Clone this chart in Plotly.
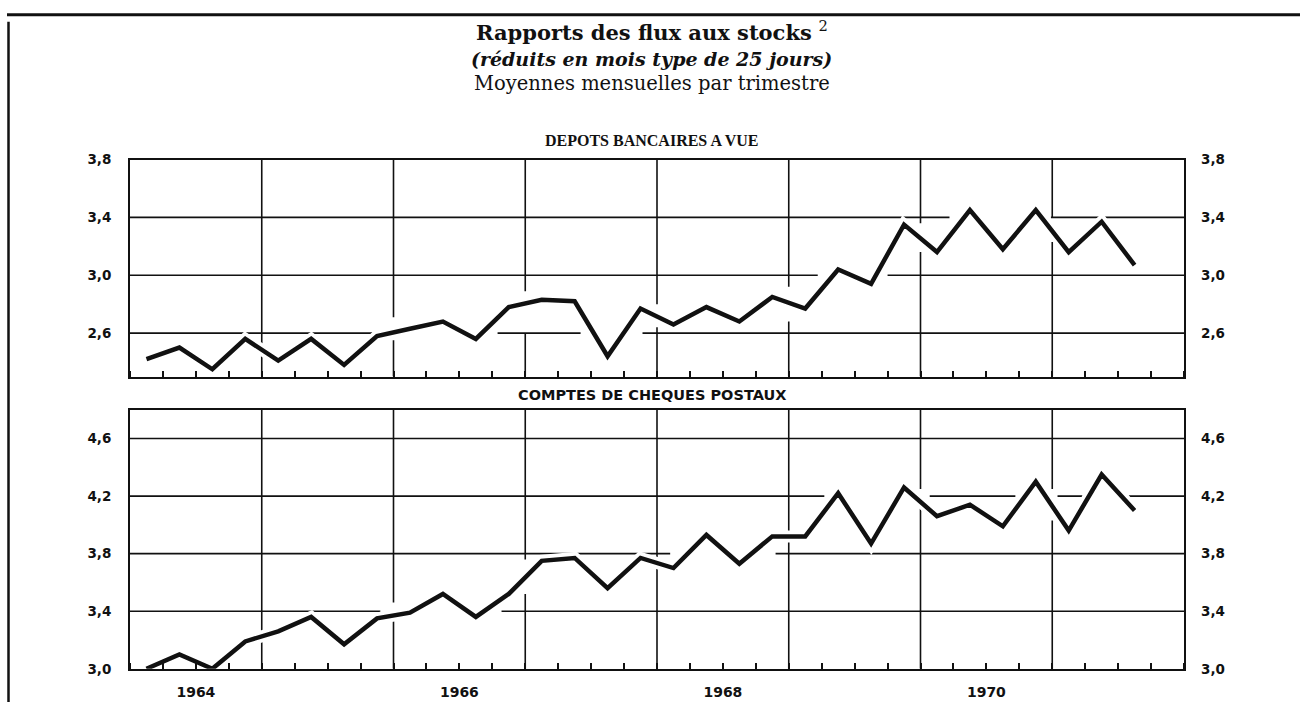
import plotly.graph_objects as go

# Trimestres couverts : 1964 T1 -> 1971 T3
annees = [1964, 1965, 1966, 1967, 1968, 1969, 1970, 1971]
trimestres = [(a, t) for a in annees for t in (1, 2, 3, 4)][:31]

# Rapports des flux aux stocks (mois type de 25 jours), moyennes mensuelles par trimestre
depots_vue = [2.42, 2.50, 2.35, 2.56, 2.41, 2.56, 2.38, 2.58,
              2.63, 2.68, 2.56, 2.78, 2.83, 2.82, 2.44, 2.77,
              2.66, 2.78, 2.68, 2.85, 2.77, 3.04, 2.94, 3.35,
              3.16, 3.45, 3.18, 3.45, 3.16, 3.37, 3.07]
cheques_postaux = [3.00, 3.10, 3.00, 3.19, 3.26, 3.36, 3.17, 3.35,
                   3.39, 3.52, 3.36, 3.52, 3.75, 3.77, 3.56, 3.77,
                   3.70, 3.93, 3.73, 3.92, 3.92, 4.22, 3.87, 4.26,
                   4.06, 4.14, 3.99, 4.30, 3.96, 4.35, 4.10]

graduations_haut = [2.6, 3.0, 3.4, 3.8]
graduations_bas = [3.0, 3.4, 3.8, 4.2, 4.6]
annees_etiquetees = ["1964", "1966", "1968", "1970"]

# position au milieu de chaque trimestre
x = [a + (t - 0.5) / 4 for a, t in trimestres]


def virgule(v):
    return f"{v:.1f}".replace(".", ",")


X_RANGE = [1964, 1972]
Y_HAUT = [2.3, 3.8]
Y_BAS = [3.0, 4.8]

W, H = 1300, 710
XD = [130 / W, 1184 / W]
YD_HAUT = [1 - 377 / H, 1 - 155 / H]
YD_BAS = [1 - 676 / H, 1 - 411 / H]

NOIR = "#111111"
police_grad = dict(family="DejaVu Sans", size=13.5, color=NOIR, weight="bold")

fig = go.Figure()

for serie, xa, ya in ((depots_vue, "x", "y"), (cheques_postaux, "x2", "y2")):
    # liseré blanc qui interrompt le quadrillage autour de la courbe
    fig.add_trace(go.Scatter(x=x, y=serie, xaxis=xa, yaxis=ya, mode="lines",
                             line=dict(color="white", width=12),
                             hoverinfo="skip", showlegend=False))
    fig.add_trace(go.Scatter(x=x, y=serie, xaxis=xa, yaxis=ya, mode="lines",
                             line=dict(color=NOIR, width=4.5),
                             showlegend=False))

# traces invisibles portant les graduations de droite
fig.add_trace(go.Scatter(x=x, y=depots_vue, xaxis="x", yaxis="y3", mode="lines",
                         line=dict(width=0), hoverinfo="skip", showlegend=False))
fig.add_trace(go.Scatter(x=x, y=cheques_postaux, xaxis="x2", yaxis="y4", mode="lines",
                         line=dict(width=0), hoverinfo="skip", showlegend=False))

pos_annees = [int(a) + 0.5 for a in annees_etiquetees]

axe_x = dict(range=X_RANGE, domain=XD, showline=True, mirror=True, linewidth=2,
             linecolor=NOIR, showgrid=False, zeroline=False, fixedrange=True,
             tickmode="array", tickvals=pos_annees, ticktext=annees_etiquetees,
             ticks="", tickfont=dict(family="DejaVu Sans", size=14, color=NOIR, weight="bold"),
             ticklabelstandoff=9,
             minor=dict(ticks="inside", ticklen=6, tickwidth=1.5, tickcolor=NOIR,
                        tickmode="linear", tick0=1964, dtick=0.25, showgrid=False))


def axe_y(plage, domaine, grads, ancre):
    return dict(range=plage, domain=domaine, anchor=ancre, showline=True, mirror=True,
                linewidth=2, linecolor=NOIR, showgrid=False, zeroline=False,
                tickmode="array", tickvals=grads, ticktext=[virgule(v) for v in grads],
                ticks="", tickfont=police_grad, ticklabelstandoff=14, fixedrange=True)


def axe_y_droit(plage, grads, ancre, superpose):
    return dict(range=plage, overlaying=superpose, side="right", anchor=ancre,
                showline=False, showgrid=False, zeroline=False,
                tickmode="array", tickvals=grads, ticktext=[virgule(v) for v in grads],
                ticks="", tickfont=police_grad, ticklabelstandoff=16, fixedrange=True)


fig.update_layout(
    width=W, height=H, autosize=False,
    margin=dict(l=0, r=0, t=0, b=0),
    paper_bgcolor="white", plot_bgcolor="white",
    showlegend=False,
    xaxis=dict(axe_x, anchor="y", showticklabels=False),
    xaxis2=dict(axe_x, anchor="y2"),
    yaxis=axe_y(Y_HAUT, YD_HAUT, graduations_haut, "x"),
    yaxis2=axe_y(Y_BAS, YD_BAS, graduations_bas, "x2"),
    yaxis3=axe_y_droit(Y_HAUT, graduations_haut, "x", "y"),
    yaxis4=axe_y_droit(Y_BAS, graduations_bas, "x2", "y2"),
)

# Quadrillage interrompu (segments tracés à la main, comme sur le graphique d'origine)
quad_h_haut = {2.6: [(1964, 1965.84), (1966.79, 1967.42), (1967.89, 1972)],
               3.0: [(1964, 1969.22), (1969.75, 1972)],
               3.4: [(1964, 1970.22), (1970.99, 1972)]}
quad_v_haut = {1965: [(2.3, 3.8)],
               1966: [(2.3, 2.55), (2.71, 3.8)],
               1967: [(2.3, 2.6), (2.89, 3.8)],
               1968: [(2.3, 2.64), (2.80, 3.8)],
               1969: [(2.3, 2.68), (2.92, 3.8)],
               1970: [(2.3, 3.16), (3.36, 3.8)],
               1971: [(2.3, 3.23), (3.4, 3.8)]}
quad_h_bas = {3.4: [(1964, 1965.90), (1966.82, 1972)],
              3.8: [(1964, 1968.10), (1968.90, 1972)],
              4.2: [(1964, 1969.27), (1970.07, 1970.72), (1971.04, 1971.23), (1971.58, 1972)],
              4.6: [(1964, 1972)]}
quad_v_bas = {1965: [(3.0, 4.8)],
              1966: [(3.0, 3.33), (3.46, 4.8)],
              1967: [(3.0, 3.52), (3.76, 4.8)],
              1968: [(3.0, 4.8)],
              1969: [(3.0, 4.8)],
              1970: [(3.0, 4.12), (4.25, 4.8)],
              1971: [(3.0, 4.03), (4.25, 4.8)]}

trait = dict(color=NOIR, width=1.6)
for hz, vt, xr, yr in ((quad_h_haut, quad_v_haut, "x", "y"), (quad_h_bas, quad_v_bas, "x2", "y2")):
    for yv, segs in hz.items():
        for x0, x1 in segs:
            fig.add_shape(type="line", xref=xr, yref=yr, x0=x0, x1=x1, y0=yv, y1=yv,
                          line=trait, layer="below")
    for xv, segs in vt.items():
        for y0, y1 in segs:
            fig.add_shape(type="line", xref=xr, yref=yr, x0=xv, x1=xv, y0=y0, y1=y1,
                          line=trait, layer="below")

# cadre de la page
fig.add_shape(type="line", xref="paper", yref="paper", x0=7 / W, x1=1, y0=1 - 7 / H,
              y1=1 - 7 / H, line=dict(color=NOIR, width=3))
fig.add_shape(type="line", xref="paper", yref="paper", x0=8.5 / W, x1=8.5 / W,
              y0=0, y1=1 - 14 / H, line=dict(color=NOIR, width=2.5))

textes = [
    ("<b>Rapports des flux aux stocks</b> <sup>2</sup>", 24,
     dict(family="DejaVu Serif", size=21, color=NOIR)),
    ("<b><i>(réduits en mois type de 25 jours)</i></b>", 52,
     dict(family="DejaVu Serif", size=19, color=NOIR)),
    ("Moyennes mensuelles par trimestre", 77,
     dict(family="DejaVu Serif", size=19.5, color=NOIR)),
    ("<b>DEPOTS BANCAIRES A VUE</b>", 136,
     dict(family="Liberation Serif", size=16, color=NOIR)),
    ("<b>COMPTES DE CHEQUES POSTAUX</b>", 396,
     dict(family="DejaVu Sans", size=14.5, color=NOIR)),
]
for txt, yp, f in textes:
    fig.add_annotation(text=txt, xref="paper", yref="paper", x=652 / W, y=1 - yp / H,
                       xanchor="center", yanchor="middle", showarrow=False, font=f)

fig.write_html("out.html")
